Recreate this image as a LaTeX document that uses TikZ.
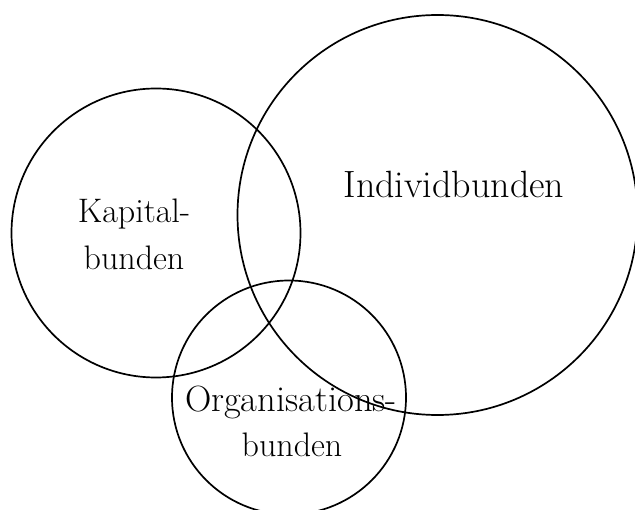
\documentclass[tikz,border=0pt]{standalone}
\begin{document}
\begin{tikzpicture}[x=1pt,y=-1pt,
  ring/.style={draw=black,line width=1.7pt},
  lbl/.style={anchor=base,inner sep=0pt,font=\fontsize{34}{40}\selectfont},
  biglbl/.style={lbl,font=\fontsize{38}{44}\selectfont},
  widelbl/.style={lbl,font=\fontsize{36.5}{42}\selectfont}]
  \useasboundingbox (0,0) rectangle (635,510);
  \begin{scope}
    \clip (0,0) rectangle (635,510);
    % three overlapping spheres of commitment
    \draw[ring] (156,233) circle[radius=144.5];
    \draw[ring] (437.5,215) circle[radius=200];
    \draw[ring] (289,397.5) circle[radius=117];
  \end{scope}
  % labels
  \node[lbl] (k1) at (134,223) {Kapital-};
  \node[lbl] (k2) at (134,270) {bunden};
  \node[biglbl] (ind) at (454,198) {Individbunden};
  \node[widelbl] (o1) at (291,412) {Organisations-};
  \node[lbl] (o2) at (292,457) {bunden};
\end{tikzpicture}
\end{document}
